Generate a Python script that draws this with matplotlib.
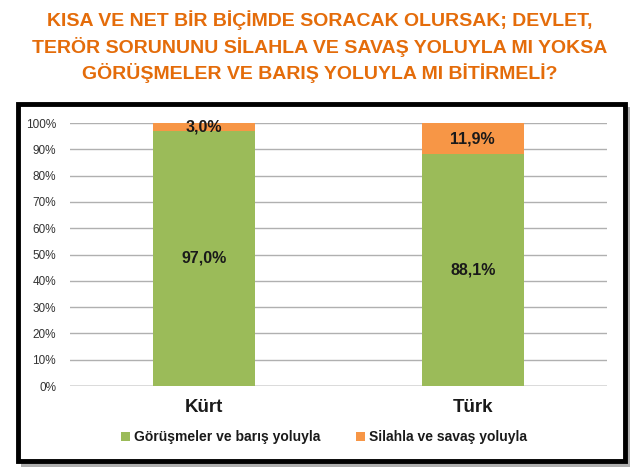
import matplotlib
matplotlib.use("Agg")
import matplotlib.pyplot as plt
from matplotlib.patches import Rectangle

categories = ["Kürt", "Türk"]
peace = [97.0, 88.1]
war = [3.0, 11.9]
peace_labels = ["97,0%", "88,1%"]
war_labels = ["3,0%", "11,9%"]
series_names = ["Görüşmeler ve barış yoluyla", "Silahla ve savaş yoluyla"]
yticks = [0, 10, 20, 30, 40, 50, 60, 70, 80, 90, 100]
title = ("KISA VE NET BİR BİÇİMDE SORACAK OLURSAK; DEVLET,\n"
         "TERÖR SORUNUNU SİLAHLA VE SAVAŞ YOLUYLA MI YOKSA\n"
         "GÖRÜŞMELER VE BARIŞ YOLUYLA MI BİTİRMELİ?")

plt.rcParams['font.family'] = ['Liberation Sans', 'DejaVu Sans']

W, H = 639, 473
fig = plt.figure(figsize=(W / 100, H / 100), dpi=100)

def fx(px):
    return px / W

def fy(py):
    return 1 - py / H

# title
fig.text(0.5, fy(47), title, ha='center', va='center', color='#E46C0A',
         fontsize=14, fontweight='bold', linespacing=1.4)

# shadow and frame
fig.patches.append(Rectangle((fx(21), fy(467)), fx(609), (467 - 107) / H,
                             transform=fig.transFigure, facecolor='#8c8c8c',
                             edgecolor='none', zorder=0, alpha=0.7))
fig.patches.append(Rectangle((fx(18), fy(461)), fx(607), (461 - 104) / H,
                             transform=fig.transFigure, facecolor='white',
                             edgecolor='black', linewidth=3.5, zorder=1))

ax = fig.add_axes([fx(70), fy(386), fx(607 - 70), (386 - 123) / H])
ax.set_zorder(2)
ax.patch.set_alpha(0)

x = range(len(categories))
ax.bar(x, peace, width=0.38, color='#9BBB59', label=series_names[0], zorder=3)
ax.bar(x, war, width=0.38, bottom=peace, color='#F79646', label=series_names[1], zorder=3)

for i in x:
    ax.text(i, peace[i] / 2, peace_labels[i], ha='center', va='center',
            fontsize=11.5, fontweight='bold', color='#1a1a1a', zorder=4)
    ax.text(i, peace[i] + war[i] / 2, war_labels[i], ha='center', va='center',
            fontsize=11.5, fontweight='bold', color='#1a1a1a', zorder=4)

ax.set_xlim(-0.5, 1.5)
ax.set_ylim(0, 100)
ax.set_yticks(yticks)
ax.set_yticklabels([f"{t}%" for t in yticks], fontsize=8.5, color='#333333')
ax.set_xticks(list(x))
ax.set_xticklabels(categories, fontsize=13.5, fontweight='bold', color='#1a1a1a')
ax.tick_params(axis='both', length=0)
ax.tick_params(axis='y', pad=10)
ax.tick_params(axis='x', pad=9)
ax.grid(axis='y', color='#b0b0b0', linewidth=1, zorder=0)
for s in ax.spines.values():
    s.set_visible(False)
ax.axhline(0, color='#808080', linewidth=1, zorder=1)

leg = fig.legend(loc='center', bbox_to_anchor=(fx(324), fy(437)), ncol=2,
                 frameon=False, handlelength=0.6, handleheight=0.6,
                 handletextpad=0.3, columnspacing=2.6,
                 prop={'weight': 'bold', 'size': 10})
for t in leg.get_texts():
    t.set_color('#1a1a1a')
leg.set_zorder(5)

fig.savefig("out.png", dpi=100)
